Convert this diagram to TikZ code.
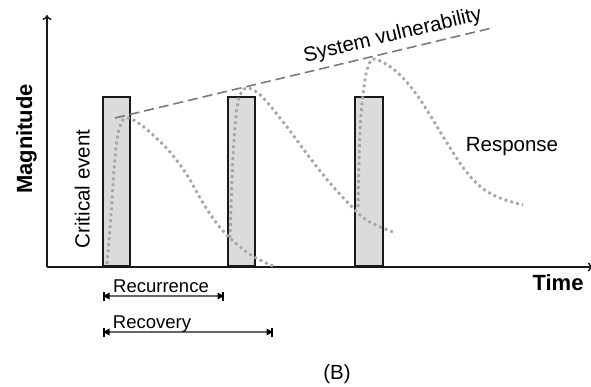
\documentclass[tikz,border=0pt]{standalone}
\usepackage{fontspec}
\setmainfont{Liberation Sans}
\usetikzlibrary{arrows.meta}
\begin{document}
\begin{tikzpicture}[x=1pt,y=-1pt,
  lbl/.style={inner sep=0pt, anchor=base, font=\fontsize{20.5}{22}\selectfont},
  slbl/.style={inner sep=0pt, anchor=base, font=\fontsize{18.5}{20}\selectfont},
  blbl/.style={inner sep=0pt, anchor=base, font=\fontsize{22}{24}\selectfont\bfseries},
  barbox/.style={draw=black!90, line width=1.7pt, fill=black!14, minimum width=27pt, minimum height=169pt, inner sep=0pt, anchor=south west},
  resp/.style={draw=black!35, line width=2.8pt, dash pattern=on 2.8pt off 3.2pt},
  vul/.style={draw=black!52, line width=1.6pt, dash pattern=on 10pt off 5pt},
  axis/.style={draw=black!90, line width=1.5pt},
  span/.style={draw=black!60, line width=1.1pt, {Bar[width=9pt,line width=1.6pt,color=black]}-{Bar[width=9pt,line width=1.6pt,color=black]}},
  tipfill/.style={fill=black}
]
\useasboundingbox (0,0) rectangle (591,387);
% bars (critical events)
\node[barbox] (b1) at (102,267) {};
\node[barbox] (b2) at (227,267) {};
\node[barbox, minimum width=28pt] (b3) at (354,267) {};
% axes
\coordinate (O) at (47,267);
\coordinate (ytop) at (47,15);
\coordinate (xend) at (593,267);
\draw[axis, -{To[length=5pt,width=9pt]}] (O) -- (ytop);
\draw[axis, -{To[length=5pt,width=9pt]}] (O) -- (xend);
% response curves
\draw[resp] plot[smooth, tension=0.6] coordinates {(107,264) (111,215) (114,170) (117,140) (121,124) (126,118) (137,122) (152,134) (170,152) (187,175) (203,203) (218,225) (232,240) (248,253) (262,261) (273,266)};
\draw[resp] plot[smooth, tension=0.6] coordinates {(230,238) (232,180) (234,140) (237,108) (241,93) (247,88) (258,93) (272,108) (290,131) (310,158) (330,183) (352,207) (365,219) (378,226) (393,232)};
\draw[resp] plot[smooth, tension=0.6] coordinates {(358,207) (359,160) (361,115) (365,80) (369,64) (374,59) (384,63) (398,73) (414,91) (430,115) (447,143) (465,170) (482,188) (500,198) (523,205)};
% system vulnerability
\coordinate (v1) at (115,118);
\coordinate (v2) at (492,28);
\draw[vul] (v1) -- (v2);
\node[lbl, rotate=13.4] (sv) at (394,41) {System vulnerability};
% labels
\node[blbl, rotate=90] (mag) at (32,139) {Magnitude};
\node[blbl] (time) at (558,290) {Time};
\node[lbl, rotate=90] (ce) at (89.5,189) {Critical event};
\node[lbl] (resp) at (512,152) {Response};
% spans
\coordinate (r1) at (103,296);
\coordinate (r2) at (224,296);
\coordinate (c1) at (103,332);
\coordinate (c2) at (273,332);
\draw[span] (r1) -- (r2);
\draw[span] (c1) -- (c2);
\fill[tipfill] (r1) -- ++(6.5,-3.5) -- ++(0,7) -- cycle;
\fill[tipfill] (r2) -- ++(-6.5,-3.5) -- ++(0,7) -- cycle;
\fill[tipfill] (c1) -- ++(6.5,-3.5) -- ++(0,7) -- cycle;
\fill[tipfill] (c2) -- ++(-6.5,-3.5) -- ++(0,7) -- cycle;
\node[slbl] (rec) at (161,292) {Recurrence};
\node[slbl] (recv) at (152,328) {Recovery};
\node[lbl] (B) at (337,379) {(B)};
\end{tikzpicture}
\end{document}
